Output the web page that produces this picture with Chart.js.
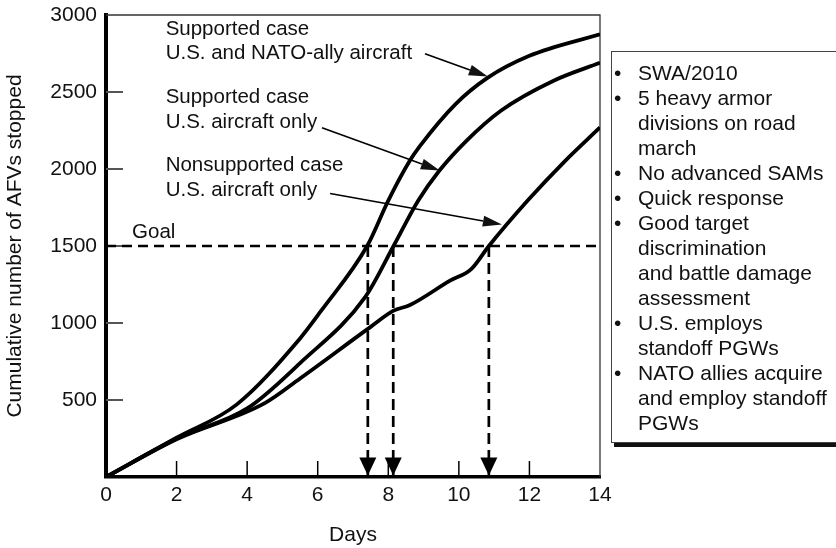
<!DOCTYPE html>
<html lang="en">
  <head>
    <meta charset="UTF-8" />
    <title>Cumulative number of AFVs stopped</title>
    <script src="https://cdn.jsdelivr.net/npm/chart.js"></script>
    <style>
      body {
        margin: 0;
        background: #fff;
        font-family: "Liberation Sans", Arial, sans-serif;
      }
      .wrap {
        position: relative;
        width: 836px;
        height: 548px;
        overflow: hidden;
      }
      .notes {
        position: absolute;
        left: 611px;
        top: 51px;
        width: 260px;
        height: 392px;
        box-sizing: border-box;
        border: 1.5px solid #444;
        box-shadow: 3px 4px 0 #111;
        background: #fff;
        padding-top: 8px;
        font-size: 21px;
        line-height: 25px;
        color: #111;
        white-space: nowrap;
      }
      .notes ul {
        list-style: none;
        margin: 0;
        padding: 0;
      }
      .notes li {
        position: relative;
        padding-left: 26px;
      }
      .notes li::before {
        content: "\2022";
        position: absolute;
        left: 2px;
      }
    </style>
  </head>
  <body>
    <div class="wrap">
      <canvas id="afvChart" width="836" height="548"></canvas>
      <div class="notes">
        <ul>
          <li>SWA/2010</li>
          <li>5 heavy armor<br />divisions on road<br />march</li>
          <li>No advanced SAMs</li>
          <li>Quick response</li>
          <li>Good target<br />discrimination<br />and battle damage<br />assessment</li>
          <li>U.S. employs<br />standoff PGWs</li>
          <li>NATO allies acquire<br />and employ standoff<br />PGWs</li>
        </ul>
      </div>
    </div>

    <script>
      // values
      const natoDays = [0, 2, 3.7, 5.5, 6.1, 7.4, 8.0, 8.6, 8.9, 9.9, 10.8, 12, 14];
      const natoStopped = [0, 255, 470, 900, 1080, 1500, 1795, 2050, 2150, 2420, 2590, 2735, 2875];

      const usDays = [0, 2, 4, 5.5, 7.35, 8.15, 8.85, 9.45, 10.2, 11.2, 12.7, 14];
      const usStopped = [0, 250, 445, 740, 1170, 1500, 1795, 1990, 2180, 2380, 2575, 2690];

      const nonDays = [0, 2, 4.5, 5.5, 7.5, 8.15, 8.6, 9.75, 10.35, 10.85, 11.95, 13, 14];
      const nonStopped = [0, 245, 480, 640, 975, 1080, 1115, 1275, 1350, 1500, 1795, 2050, 2270];

      const goalValue = 1500;
      const goalDays = [7.42, 8.14, 10.85];

      const dayTicks = [0, 2, 4, 6, 8, 10, 12, 14];
      const stoppedTicks = [500, 1000, 1500, 2000, 2500, 3000];

      // labels on the plot, in data units
      const notes = [
        { text: "Supported case", x: 1.69, y: 2910 },
        { text: "U.S. and NATO-ally aircraft", x: 1.69, y: 2748 },
        { text: "Supported case", x: 1.69, y: 2463 },
        { text: "U.S. aircraft only", x: 1.69, y: 2301 },
        { text: "Nonsupported case", x: 1.69, y: 2022 },
        { text: "U.S. aircraft only", x: 1.69, y: 1860 },
        { text: "Goal", x: 0.74, y: 1588 },
      ];
      const pointers = [
        { from: [9.04, 2748], to: [10.82, 2600] },
        { from: [6.12, 2268], to: [9.46, 1990] },
        { from: [6.35, 1841], to: [11.22, 1640] },
      ];

      const FONT = '"Liberation Sans", Arial, sans-serif';
      const toPoints = (xs, ys) => xs.map((x, i) => ({ x: x, y: ys[i] }));

      const curve = (label, xs, ys) => ({
        label: label,
        data: toPoints(xs, ys),
        borderColor: "#000",
        borderWidth: 3.8,
        pointRadius: 0,
        cubicInterpolationMode: "monotone",
        fill: false,
      });

      const dropSets = goalDays.map((d) => ({
        label: "drop",
        data: [
          { x: d, y: goalValue },
          { x: d, y: 0 },
        ],
        borderColor: "#000",
        borderWidth: 2.7,
        borderDash: [11, 6],
        pointRadius: 0,
        isDrop: true,
      }));

      const decor = {
        id: "decor",
        beforeDatasetsDraw(chart) {
          const { ctx, chartArea: a } = chart;
          const xs = chart.scales.x;
          const ys = chart.scales.y;
          ctx.save();
          // thin frame top and right
          ctx.strokeStyle = "#333";
          ctx.lineWidth = 1.3;
          ctx.beginPath();
          ctx.moveTo(a.left, a.top);
          ctx.lineTo(a.right, a.top);
          ctx.lineTo(a.right, a.bottom);
          ctx.stroke();
          // inside ticks
          ctx.strokeStyle = "#555";
          ctx.lineWidth = 2;
          stoppedTicks.slice(0, -1).forEach((v) => {
            const y = ys.getPixelForValue(v);
            ctx.beginPath();
            ctx.moveTo(a.left, y);
            ctx.lineTo(a.left + 17, y);
            ctx.stroke();
          });
          ctx.strokeStyle = "#000";
          ctx.lineWidth = 1.5;
          dayTicks.slice(1, -1).forEach((v) => {
            const x = xs.getPixelForValue(v);
            ctx.beginPath();
            ctx.moveTo(x, a.bottom);
            ctx.lineTo(x, a.bottom - 16);
            ctx.stroke();
          });
          ctx.restore();
        },
        afterDatasetsDraw(chart) {
          const { ctx } = chart;
          const xs = chart.scales.x;
          const ys = chart.scales.y;
          ctx.save();
          // arrowheads on drop lines
          chart.data.datasets.forEach((ds, i) => {
            if (!ds.isDrop) return;
            const pt = chart.getDatasetMeta(i).data[1];
            const tipY = pt.y - 1.5;
            ctx.fillStyle = "#000";
            ctx.beginPath();
            ctx.moveTo(pt.x, tipY);
            ctx.lineTo(pt.x - 8.5, tipY - 18);
            ctx.lineTo(pt.x + 8.5, tipY - 18);
            ctx.closePath();
            ctx.fill();
          });
          // text labels
          ctx.fillStyle = "#111";
          ctx.font = "20.5px " + FONT;
          ctx.textBaseline = "middle";
          ctx.textAlign = "left";
          notes.forEach((n) => {
            ctx.fillText(n.text, xs.getPixelForValue(n.x), ys.getPixelForValue(n.y));
          });
          // pointer arrows
          pointers.forEach((p) => {
            const x1 = xs.getPixelForValue(p.from[0]);
            const y1 = ys.getPixelForValue(p.from[1]);
            const x2 = xs.getPixelForValue(p.to[0]);
            const y2 = ys.getPixelForValue(p.to[1]);
            const ang = Math.atan2(y2 - y1, x2 - x1);
            const len = 19;
            const hw = 5.5;
            const bx = x2 - Math.cos(ang) * len;
            const by = y2 - Math.sin(ang) * len;
            ctx.strokeStyle = "#000";
            ctx.lineWidth = 1.6;
            ctx.beginPath();
            ctx.moveTo(x1, y1);
            ctx.lineTo(bx, by);
            ctx.stroke();
            ctx.beginPath();
            ctx.moveTo(x2, y2);
            ctx.lineTo(bx + Math.sin(ang) * hw, by - Math.cos(ang) * hw);
            ctx.lineTo(bx - Math.sin(ang) * hw, by + Math.cos(ang) * hw);
            ctx.closePath();
            ctx.fill();
          });
          ctx.restore();
        },
      };

      new Chart(document.getElementById("afvChart"), {
        type: "line",
        data: {
          datasets: [
            curve("Supported case, U.S. and NATO-ally aircraft", natoDays, natoStopped),
            curve("Supported case, U.S. aircraft only", usDays, usStopped),
            curve("Nonsupported case, U.S. aircraft only", nonDays, nonStopped),
            {
              label: "Goal",
              data: [
                { x: 0, y: goalValue },
                { x: 14, y: goalValue },
              ],
              borderColor: "#000",
              borderWidth: 2.7,
              borderDash: [10, 6],
              pointRadius: 0,
            },
            ...dropSets,
          ],
        },
        options: {
          responsive: false,
          animation: false,
          layout: { padding: { top: 15, right: 236, left: 0, bottom: 0 } },
          plugins: {
            legend: { display: false },
            tooltip: { enabled: false },
          },
          scales: {
            x: {
              type: "linear",
              min: 0,
              max: 14,
              afterFit(scale) {
                scale.height = 71;
                scale.paddingLeft = 0;
                scale.paddingRight = 0;
              },
              afterBuildTicks(scale) {
                scale.ticks = dayTicks.map((v) => ({ value: v }));
              },
              grid: { display: false, drawTicks: false },
              border: { display: true, color: "#000", width: 3.5 },
              ticks: {
                color: "#111",
                padding: 6,
                maxRotation: 0,
                font: { family: FONT, size: 21 },
                callback: (v) => String(v),
              },
              title: {
                display: true,
                text: "Days",
                color: "#111",
                padding: { top: 0, bottom: 0 },
                font: { family: FONT, size: 21 },
              },
            },
            y: {
              type: "linear",
              min: 0,
              max: 3000,
              afterFit(scale) {
                scale.width = 106;
                scale.paddingTop = 0;
                scale.paddingBottom = 0;
              },
              afterBuildTicks(scale) {
                scale.ticks = stoppedTicks.map((v) => ({ value: v }));
              },
              grid: { display: false, drawTicks: false },
              border: { display: true, color: "#000", width: 4 },
              ticks: {
                color: "#111",
                padding: 9,
                font: { family: FONT, size: 21 },
                callback: (v) => String(v),
              },
              title: {
                display: true,
                text: "Cumulative number of AFVs stopped",
                color: "#111",
                padding: { top: 3, bottom: 0 },
                font: { family: FONT, size: 21 },
              },
            },
          },
        },
        plugins: [decor],
      });
    </script>
  </body>
</html>
